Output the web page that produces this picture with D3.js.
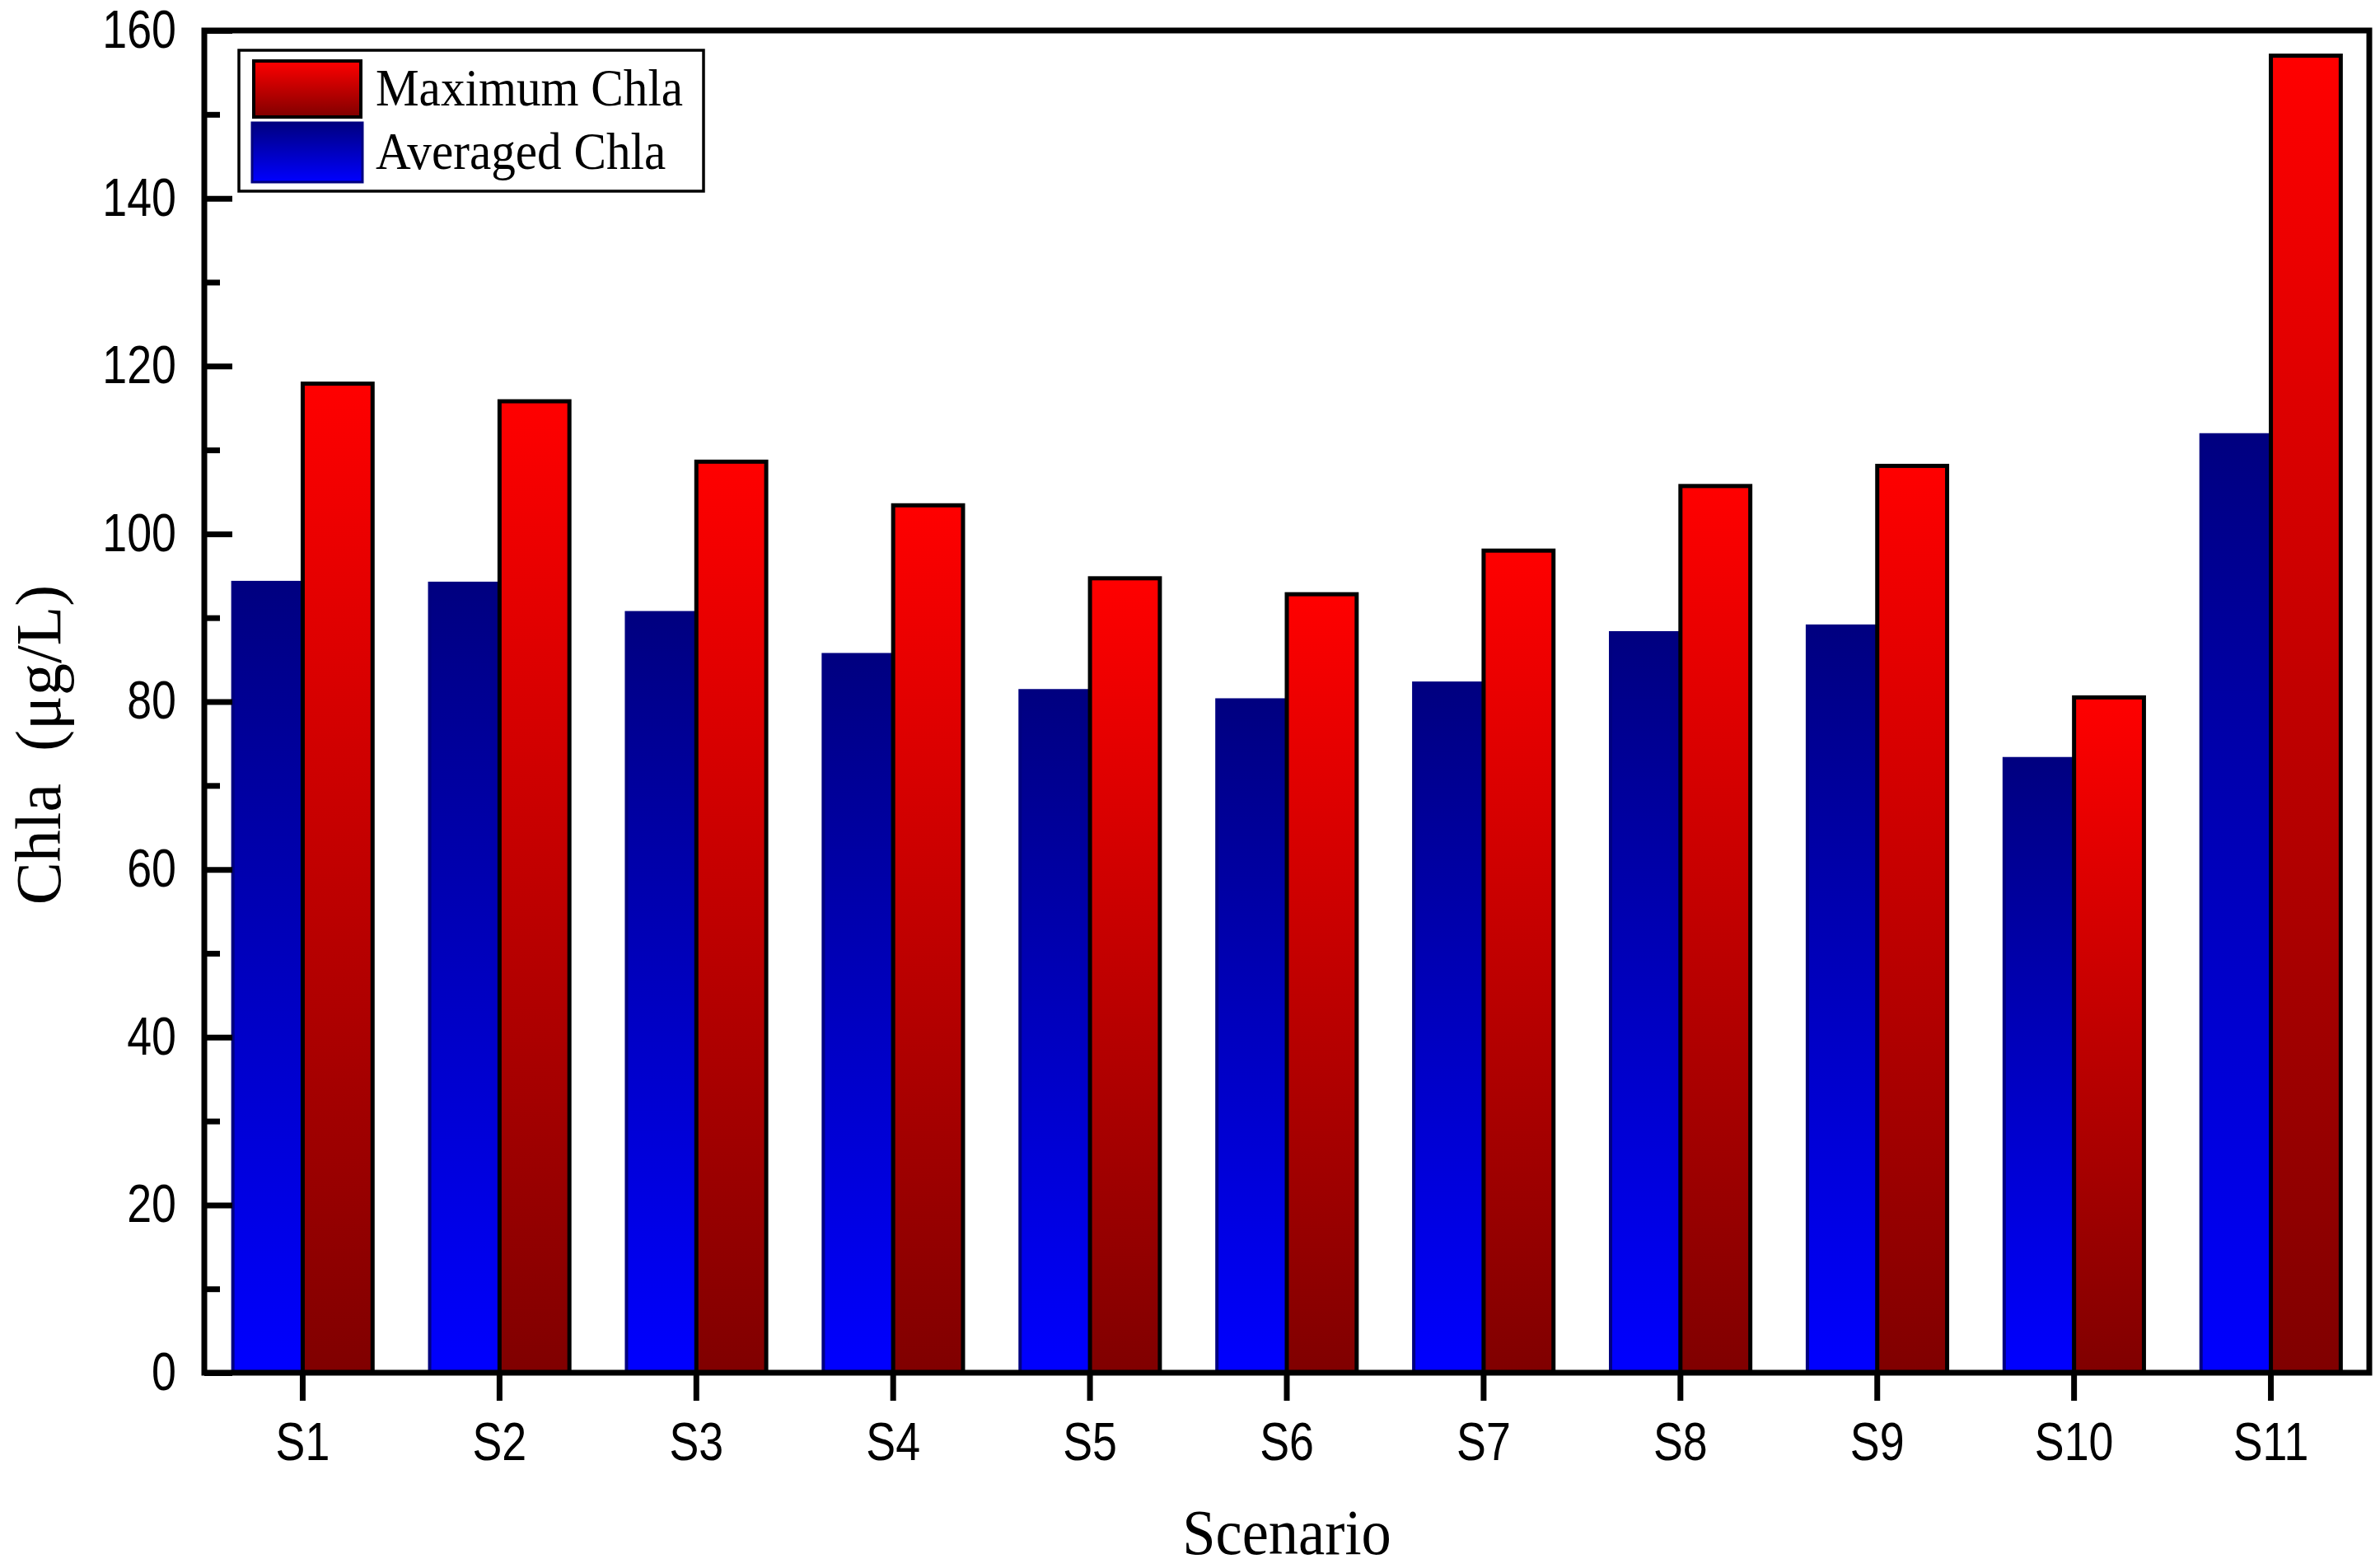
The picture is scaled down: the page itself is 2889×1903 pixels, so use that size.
<!DOCTYPE html>
<html>
<head>
<meta charset="utf-8">
<script src="https://cdn.jsdelivr.net/npm/d3@7"></script>
<style>
  html, body { margin: 0; padding: 0; background: #fff; }
  svg { display: block; }
</style>
</head>
<body>
<svg id="chla-chart" width="2889" height="1903"></svg>
<script>
// values
const scenarios = ['S1', 'S2', 'S3', 'S4', 'S5', 'S6', 'S7', 'S8', 'S9', 'S10', 'S11'];
const averagedChla = [94.2, 94.1, 90.6, 85.6, 81.3, 80.2, 82.2, 88.2, 89.0, 73.2, 111.8];
const maximumChla = [117.9, 115.8, 108.6, 103.4, 94.7, 92.8, 98.0, 105.7, 108.1, 80.5, 157.0];
const yMajorTicks = [0, 20, 40, 60, 80, 100, 120, 140, 160];
const yMinorTicks = [10, 30, 50, 70, 90, 110, 130, 150];
const seriesNames = ['Maximum Chla', 'Averaged Chla'];

const svgElement = d3.select('svg#chla-chart');
const plotLeft = 248, plotRight = 2876, plotTop = 37, plotBottom = 1666;
const sansFont = '"Liberation Sans", Arial, sans-serif';
const serifFont = '"Liberation Serif", "Times New Roman", serif';
const squeeze = 0.84;

const defs = svgElement.append('defs');
const redGrad = defs.append('linearGradient')
  .attr('id', 'grad-max').attr('x1', 0).attr('y1', 0).attr('x2', 0).attr('y2', 1);
redGrad.append('stop').attr('offset', '0%').attr('stop-color', '#ff0000');
redGrad.append('stop').attr('offset', '100%').attr('stop-color', '#800000');
const blueGrad = defs.append('linearGradient')
  .attr('id', 'grad-avg').attr('x1', 0).attr('y1', 0).attr('x2', 0).attr('y2', 1);
blueGrad.append('stop').attr('offset', '0%').attr('stop-color', '#000080');
blueGrad.append('stop').attr('offset', '100%').attr('stop-color', '#0000ff');

const x = d3.scaleBand()
  .domain(scenarios)
  .range([plotLeft, plotRight])
  .paddingInner(0.29)
  .paddingOuter(0.145);
const xSub = d3.scaleBand()
  .domain(['avg', 'max'])
  .range([0, x.bandwidth()]);
const y = d3.scaleLinear().domain([0, 160]).range([plotBottom, plotTop]);

const rows = scenarios.map((s, i) => ({name: s, avg: averagedChla[i], max: maximumChla[i]}));

// bars
const groups = svgElement.append('g').selectAll('g')
  .data(rows)
  .enter().append('g')
  .attr('transform', d => `translate(${x(d.name)},0)`);

groups.append('rect')
  .attr('x', xSub('avg'))
  .attr('y', d => y(d.avg))
  .attr('width', xSub.bandwidth())
  .attr('height', d => y(0) - y(d.avg))
  .attr('fill', 'url(#grad-avg)')
  .attr('stroke', '#000080')
  .attr('stroke-width', 4);

groups.append('rect')
  .attr('x', xSub('max'))
  .attr('y', d => y(d.max))
  .attr('width', xSub.bandwidth())
  .attr('height', d => y(0) - y(d.max))
  .attr('fill', 'url(#grad-max)')
  .attr('stroke', '#000')
  .attr('stroke-width', 5);

// axes
const yAxis = d3.axisLeft(y)
  .tickValues(yMajorTicks)
  .tickSizeInner(-34)
  .tickSizeOuter(0)
  .tickPadding(34)
  .tickFormat(d3.format('d'));
const yG = svgElement.append('g')
  .attr('transform', `translate(${plotLeft},0)`)
  .call(yAxis);
yG.select('.domain').remove();
yG.selectAll('.tick line').attr('stroke', '#000').attr('stroke-width', 7);
yG.selectAll('.tick text')
  .attr('font-family', sansFont)
  .attr('font-size', 64)
  .attr('fill', '#000')
  .attr('x', -34 / squeeze)
  .attr('transform', `scale(${squeeze},1)`);

const yMinor = d3.axisLeft(y)
  .tickValues(yMinorTicks)
  .tickSizeInner(-19)
  .tickSizeOuter(0)
  .tickFormat('');
const yMinorG = svgElement.append('g')
  .attr('transform', `translate(${plotLeft},0)`)
  .call(yMinor);
yMinorG.select('.domain').remove();
yMinorG.selectAll('.tick line').attr('stroke', '#000').attr('stroke-width', 7);

const xAxis = d3.axisBottom(x)
  .tickSizeInner(34)
  .tickSizeOuter(0)
  .tickPadding(27);
const xG = svgElement.append('g')
  .attr('transform', `translate(0,${plotBottom})`)
  .call(xAxis);
xG.select('.domain').remove();
xG.selectAll('.tick line').attr('stroke', '#000').attr('stroke-width', 7);
xG.selectAll('.tick text')
  .attr('font-family', sansFont)
  .attr('font-size', 64)
  .attr('fill', '#000')
  .attr('transform', `scale(${squeeze},1)`);

// frame
svgElement.append('rect')
  .attr('x', plotLeft).attr('y', plotTop)
  .attr('width', plotRight - plotLeft).attr('height', plotBottom - plotTop)
  .attr('fill', 'none')
  .attr('stroke', '#000')
  .attr('stroke-width', 7);

// legend
const legend = svgElement.append('g');
legend.append('rect')
  .attr('x', 290).attr('y', 61).attr('width', 564).attr('height', 171)
  .attr('fill', '#fff').attr('stroke', '#000').attr('stroke-width', 3.5);
legend.append('rect')
  .attr('x', 308).attr('y', 74).attr('width', 130).attr('height', 68)
  .attr('fill', 'url(#grad-max)').attr('stroke', '#000').attr('stroke-width', 4);
legend.append('rect')
  .attr('x', 306).attr('y', 149).attr('width', 134).attr('height', 72)
  .attr('fill', 'url(#grad-avg)').attr('stroke', '#000080').attr('stroke-width', 3);
legend.selectAll('text.leg')
  .data(seriesNames)
  .enter().append('text')
  .attr('class', 'leg')
  .attr('transform', (d, i) => `translate(456,${i === 0 ? 128 : 205}) scale(0.925,1)`)
  .attr('font-family', serifFont)
  .attr('font-size', 64)
  .attr('fill', '#000')
  .text(d => d);

// axis titles
svgElement.append('text')
  .attr('transform', `translate(${(plotLeft + plotRight) / 2},1886) scale(0.93,1)`)
  .attr('text-anchor', 'middle')
  .attr('font-family', serifFont)
  .attr('font-size', 78)
  .attr('fill', '#000')
  .text('Scenario');

svgElement.append('text')
  .attr('transform', 'translate(73,904) rotate(-90)')
  .attr('text-anchor', 'middle')
  .attr('font-family', serifFont)
  .attr('font-size', 78)
  .attr('fill', '#000')
  .style('white-space', 'pre')
  .text('Chla  (\u03bcg/L)');
</script>
</body>
</html>
